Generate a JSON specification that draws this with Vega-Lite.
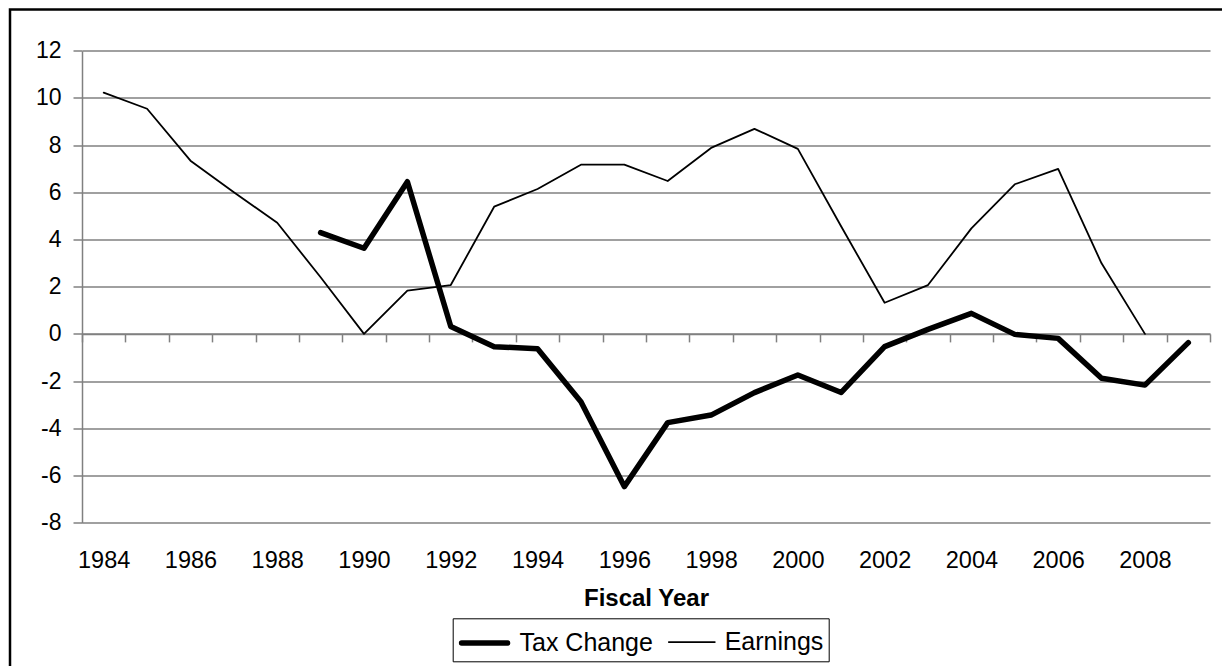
{
  "$schema": "https://vega.github.io/schema/vega-lite/v6.json",
  "autosize": {"type": "none"},
  "padding": {"left": 10, "top": 9.5, "right": 0, "bottom": 0},
  "width": 1232,
  "height": 700,
  "background": "white",
  "config": {
    "view": {"stroke": "black", "strokeWidth": 2.5},
    "font": "Liberation Sans"
  },
  "data": {
    "values": [
      {"year": 1984, "series": "Earnings", "value": 10.22},
      {"year": 1985, "series": "Earnings", "value": 9.54},
      {"year": 1986, "series": "Earnings", "value": 7.34},
      {"year": 1987, "series": "Earnings", "value": 6.0},
      {"year": 1988, "series": "Earnings", "value": 4.71},
      {"year": 1989, "series": "Earnings", "value": 2.4},
      {"year": 1990, "series": "Earnings", "value": 0.0},
      {"year": 1991, "series": "Earnings", "value": 1.83},
      {"year": 1992, "series": "Earnings", "value": 2.07},
      {"year": 1993, "series": "Earnings", "value": 5.39},
      {"year": 1994, "series": "Earnings", "value": 6.14},
      {"year": 1995, "series": "Earnings", "value": 7.17},
      {"year": 1996, "series": "Earnings", "value": 7.17},
      {"year": 1997, "series": "Earnings", "value": 6.48},
      {"year": 1998, "series": "Earnings", "value": 7.88},
      {"year": 1999, "series": "Earnings", "value": 8.69},
      {"year": 2000, "series": "Earnings", "value": 7.84},
      {"year": 2001, "series": "Earnings", "value": 4.55},
      {"year": 2002, "series": "Earnings", "value": 1.32},
      {"year": 2003, "series": "Earnings", "value": 2.07},
      {"year": 2004, "series": "Earnings", "value": 4.47},
      {"year": 2005, "series": "Earnings", "value": 6.34},
      {"year": 2006, "series": "Earnings", "value": 6.99},
      {"year": 2007, "series": "Earnings", "value": 2.99},
      {"year": 2008, "series": "Earnings", "value": 0.0},
      {"year": 1989, "series": "Tax Change", "value": 4.29},
      {"year": 1990, "series": "Tax Change", "value": 3.63},
      {"year": 1991, "series": "Tax Change", "value": 6.45},
      {"year": 1992, "series": "Tax Change", "value": 0.31},
      {"year": 1993, "series": "Tax Change", "value": -0.54},
      {"year": 1994, "series": "Tax Change", "value": -0.63},
      {"year": 1995, "series": "Tax Change", "value": -2.87},
      {"year": 1996, "series": "Tax Change", "value": -6.47},
      {"year": 1997, "series": "Tax Change", "value": -3.76},
      {"year": 1998, "series": "Tax Change", "value": -3.44},
      {"year": 1999, "series": "Tax Change", "value": -2.49},
      {"year": 2000, "series": "Tax Change", "value": -1.74},
      {"year": 2001, "series": "Tax Change", "value": -2.48},
      {"year": 2002, "series": "Tax Change", "value": -0.54},
      {"year": 2003, "series": "Tax Change", "value": 0.19},
      {"year": 2004, "series": "Tax Change", "value": 0.87},
      {"year": 2005, "series": "Tax Change", "value": -0.02},
      {"year": 2006, "series": "Tax Change", "value": -0.19},
      {"year": 2007, "series": "Tax Change", "value": -1.88},
      {"year": 2008, "series": "Tax Change", "value": -2.17},
      {"year": 2009, "series": "Tax Change", "value": -0.37}
    ]
  },
  "mark": {"type": "line", "strokeCap": "round", "strokeJoin": "round", "color": "black"},
  "encoding": {
    "x": {
      "field": "year",
      "type": "ordinal",
      "scale": {"type": "band", "range": [72, 1200], "paddingInner": 0, "paddingOuter": 0},
      "axis": {
        "orient": "bottom",
        "offset": -375.6,
        "title": "Fiscal Year",
        "titleFont": "Liberation Sans",
        "titleFontSize": 24,
        "titleFontWeight": "bold",
        "titleColor": "black",
        "titleY": 272,
        "titleBaseline": "alphabetic",
        "labelExpr": "datum.value % 2 == 0 ? datum.label : ''",
        "labelAngle": 0,
        "labelFontSize": 23.5,
        "labelColor": "black",
        "labelPadding": 207,
        "labelBaseline": "top",
        "tickBand": "extent",
        "tickSize": 8,
        "tickColor": "#808080",
        "tickWidth": 1.5,
        "domainColor": "#808080",
        "domainWidth": 1.5,
        "grid": false
      }
    },
    "y": {
      "field": "value",
      "type": "quantitative",
      "scale": {"domain": [-8, 12], "range": [513.2, 41.2], "nice": false, "zero": false},
      "axis": {
        "orient": "left",
        "offset": -72,
        "values": [-8, -6, -4, -2, 0, 2, 4, 6, 8, 10, 12],
        "labelExpr": "'' + datum.value",
        "title": null,
        "labelFontSize": 23,
        "labelColor": "black",
        "labelPadding": 12,
        "tickSize": 9,
        "tickColor": "#808080",
        "tickWidth": 1.5,
        "domainColor": "#808080",
        "domainWidth": 1.5,
        "grid": true,
        "gridColor": "#808080",
        "gridWidth": 1.5,
        "gridOpacity": 1
      }
    },
    "strokeWidth": {
      "field": "series",
      "type": "nominal",
      "scale": {"domain": ["Tax Change", "Earnings"], "range": [5.5, 1.8]},
      "legend": {
        "orient": "none",
        "legendX": 442.7,
        "legendY": 608.8,
        "direction": "horizontal",
        "title": null,
        "strokeColor": "black",
        "fillColor": "white",
        "padding": 5,
        "labelFontSize": 25,
        "labelColor": "black",
        "labelFont": "Liberation Sans",
        "symbolType": "M-1.386,0H1.386",
        "symbolSize": 1102,
        "symbolStrokeColor": "black",
        "symbolFillColor": "transparent",
        "symbolOffset": 7.4,
        "labelOffset": 15.4,
        "columnPadding": 11.2,
        "encode": {"symbols": {"update": {"strokeCap": {"value": "round"}}}}
      }
    }
  }
}
